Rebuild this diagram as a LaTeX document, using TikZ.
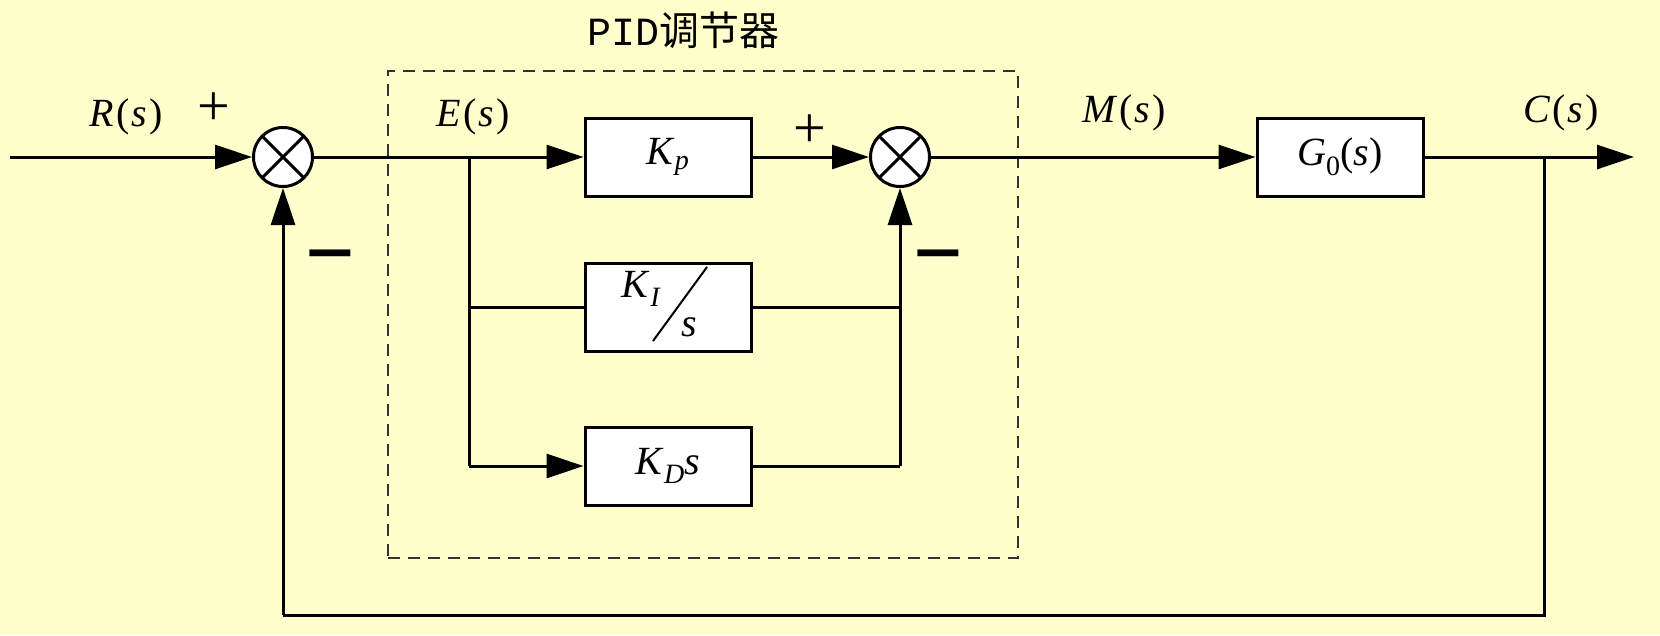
\documentclass[tikz,border=0pt]{standalone}
\usepackage{amsmath, graphicx}
\usepackage{fontspec}
\setmainfont{Liberation Serif}
\newfontfamily\cjk{Noto Sans CJK SC}
\newfontfamily\pidmono{Liberation Mono}
\usetikzlibrary{shapes,arrows.meta}
\usetikzlibrary{calc}
\usetikzlibrary{positioning}
\definecolor{bgyellow}{RGB}{255,255,204}
\tikzstyle{block} = [draw, fill=white, rectangle, line width=3pt,
    minimum height=78pt, minimum width=166pt, inner sep=0pt]
\tikzstyle{sum} = [draw, fill=white, circle, line width=3pt,
    minimum size=59pt, inner sep=0pt,
    path picture={\draw[line width=3pt]
      (path picture bounding box.north west) -- (path picture bounding box.south east)
      (path picture bounding box.north east) -- (path picture bounding box.south west);}]
\tikzstyle{input} = [coordinate]
\tikzstyle{output} = [coordinate]
\tikzstyle{sign} = [inner sep=0pt]
\newcommand{\plussign}{\scalebox{1.45}{+}}
\newcommand{\minussign}{\scalebox{2.2}[3.4]{−}}
\newcommand{\sig}[1]{\textit{#1}\kern2pt(\kern2pt\textit{s}\kern2pt)}

\begin{document}
\begin{tikzpicture}[x=1pt, y=-1pt, line width=3pt,
    >={Triangle[length=37pt,width=24pt]},
    font=\fontsize{40}{46}\selectfont]
    \useasboundingbox (0,0) rectangle (1660,635);
    \fill[bgyellow] (0,0) rectangle (1660,635);

    \node [input, name=input] at (10,157) {};
    \node [sum] (sum1) at (283,157) {};
    \node [block] (kp) at (668,157) {\textit{K}$_{\textit{p}}$};
    \node [block, minimum height=88pt] (ki) at (668,307) {};
    \node [block] (kd) at (668,466) {\textit{K}$_{\textit{D}}$\textit{s}};
    \node [sum] (sum2) at (900,157) {};
    \node [block] (g0) at (1340,157) {\textit{G}$_{\textrm{0}}$(\textit{s})};
    \node [output, name=output] at (1634,157) {};

    % K_I / s
    \node [inner sep=0pt] (kinum) at (641,289) {\textit{K}$_{\textit{I}}$};
    \node [inner sep=0pt] (kiden) at (689,327) {\textit{s}};
    \coordinate (slash1) at ($(ki.center)+(39,-40)$);
    \coordinate (slash2) at ($(ki.center)+(-15,34)$);
    \draw [line width=2pt] (slash1) -- (slash2);

    \node [shape=coordinate, name=split] at (469,157) {};
    \node [shape=coordinate, name=conn1] at (469,307) {};
    \node [shape=coordinate, name=conn2] at (469,466) {};
    \node [shape=coordinate, name=conn3] at (900,307) {};
    \node [shape=coordinate, name=conn4] at (900,466) {};
    \node [shape=coordinate, name=conn5] at (1544,157) {};
    \node [shape=coordinate, name=conn6] at (1544,615) {};
    \node [shape=coordinate, name=conn7] at (283,615) {};

    % PID box
    \node [draw, dashed, line width=1.5pt, black!80, dash pattern=on 12pt off 8pt,
        minimum width=630pt, minimum height=487pt] (pid) at (703,314.5) {};
    \node (pidlabel) at (683,30) {\pidmono PID\cjk 调节器};

    \draw [->] (input) -- (sum1);
    \draw [->] (sum1) -- (kp);
    \draw (split) -- (conn2);
    \draw (conn1) -- (ki);
    \draw [->] (conn2) -- (kd);
    \draw [->] (kp) -- (sum2);
    \draw (ki) -- (conn3);
    \draw (kd) -- (conn4);
    \draw [->] (conn4) -- (sum2);
    \draw [->] (sum2) -- (g0);
    \draw [->] (g0) -- (output);
    \draw (conn5) -- (conn6) -- (conn7);
    \draw [->] (conn7) -- (sum1);

    % labels
    \node (rlabel) at (126,117) {\sig{R}};
    \node (elabel) at (473,117) {\sig{E}};
    \node (mlabel) at (1124,113) {\sig{M}};
    \node (clabel) at (1561,113) {\sig{C}};
    \node [sign] (plus1) at (214,109) {\plussign};
    \node [sign] (plus2) at (810,131) {\plussign};
    \node [sign] (minus1) at (330,274) {\minussign};
    \node [sign] (minus2) at (938,274) {\minussign};
\end{tikzpicture}
\end{document}
